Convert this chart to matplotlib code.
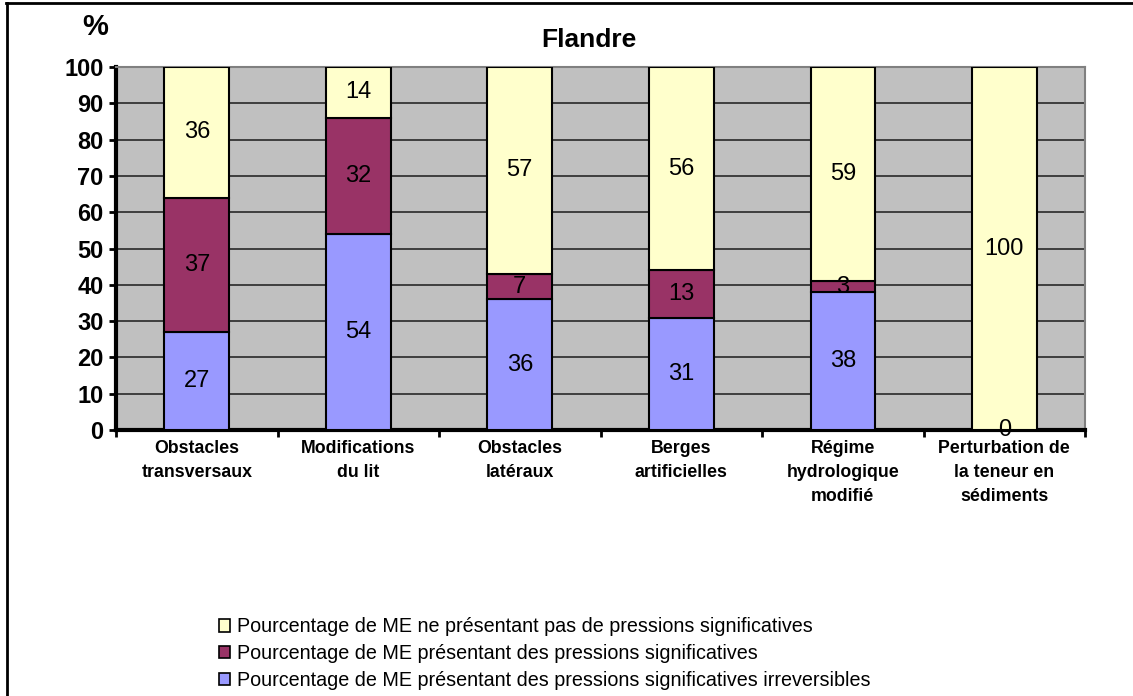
import numpy as np
import matplotlib
matplotlib.use("Agg")
import matplotlib.pyplot as plt
from matplotlib.lines import Line2D
from matplotlib.patches import Patch

plt.rcParams["font.family"] = ["Liberation Sans", "DejaVu Sans"]

categories = ["Obstacles\ntransversaux", "Modifications\ndu lit", "Obstacles\nlatéraux",
              "Berges\nartificielles", "Régime\nhydrologique\nmodifié",
              "Perturbation de\nla teneur en\nsédiments"]
irreversibles = [27, 54, 36, 31, 38, 0]
significatives = [37, 32, 7, 13, 3, 0]
non_significatives = [36, 14, 57, 56, 59, 100]

series = [
    (irreversibles, "#9999FF",
     "Pourcentage de ME présentant des pressions significatives irreversibles"),
    (significatives, "#993366",
     "Pourcentage de ME présentant des pressions significatives"),
    (non_significatives, "#FFFFCC",
     "Pourcentage de ME ne présentant pas de pressions significatives"),
]

fig = plt.figure(figsize=(11.33, 6.96), dpi=100)
ax = fig.add_axes([0.1024, 0.382, 0.8553, 0.5218])
ax.set_facecolor("#C0C0C0")

x = np.arange(len(categories))
bottom = np.zeros(len(categories))
for k, (vals, color, label) in enumerate(series):
    vals = np.array(vals, dtype=float)
    ax.bar(x, vals, width=0.4, bottom=bottom, color=color, edgecolor="black",
           linewidth=1.5, zorder=3)
    for xi, b, v in zip(x, bottom, vals):
        # empty middle segments carry no label
        if v > 0 or k == 0:
            ax.text(xi, b + v / 2, f"{v:.0f}", ha="center", va="center",
                    fontsize=17, zorder=4)
    bottom += vals

ax.set_xlim(-0.5, len(categories) - 0.5)
ax.set_ylim(0, 100)
ax.set_yticks(np.arange(0, 101, 10))
ax.yaxis.grid(True, color="#282828", linewidth=1.2, zorder=1)
ax.tick_params(axis="y", labelsize=17, length=5, width=2, direction="out", pad=4)
for t in ax.get_yticklabels():
    t.set_fontweight("bold")

ax.set_xticks(np.arange(-0.5, len(categories)), labels=[""] * (len(categories) + 1))
ax.set_xticks(x, labels=categories, minor=True)
ax.tick_params(axis="x", which="major", length=5, width=2, direction="out")
ax.tick_params(axis="x", which="minor", length=0, labelsize=12.8, pad=7)
for t in ax.get_xticklabels(minor=True):
    t.set_fontweight("bold")
    t.set_va("top")
    t.set_linespacing(1.55)

for side in ("top", "right"):
    ax.spines[side].set_color("#808080")
    ax.spines[side].set_linewidth(1.5)
for side in ("left", "bottom"):
    ax.spines[side].set_color("black")
    ax.spines[side].set_linewidth(3)

fig.text(0.52, 0.942, "Flandre", ha="center", va="center", fontsize=19,
         fontweight="bold")
fig.text(0.084, 0.961, "%", ha="center", va="center", fontsize=21,
         fontweight="bold")

# chart frame
fig.add_artist(Line2D([0.005, 1.0], [0.996, 0.996], color="black", lw=2,
                      transform=fig.transFigure))
fig.add_artist(Line2D([0.006, 0.006], [0.0, 0.996], color="black", lw=2,
                      transform=fig.transFigure))

handles = [Patch(facecolor=c, edgecolor="black", linewidth=1.2, label=l)
           for _, c, l in reversed(series)]
fig.legend(handles=handles, loc="upper left", bbox_to_anchor=(0.186, 0.1245),
           frameon=False, fontsize=14.2, handlelength=0.6, handleheight=0.6,
           handletextpad=0.35, labelspacing=0.4, borderaxespad=0)

fig.savefig("out.png", dpi=100)
